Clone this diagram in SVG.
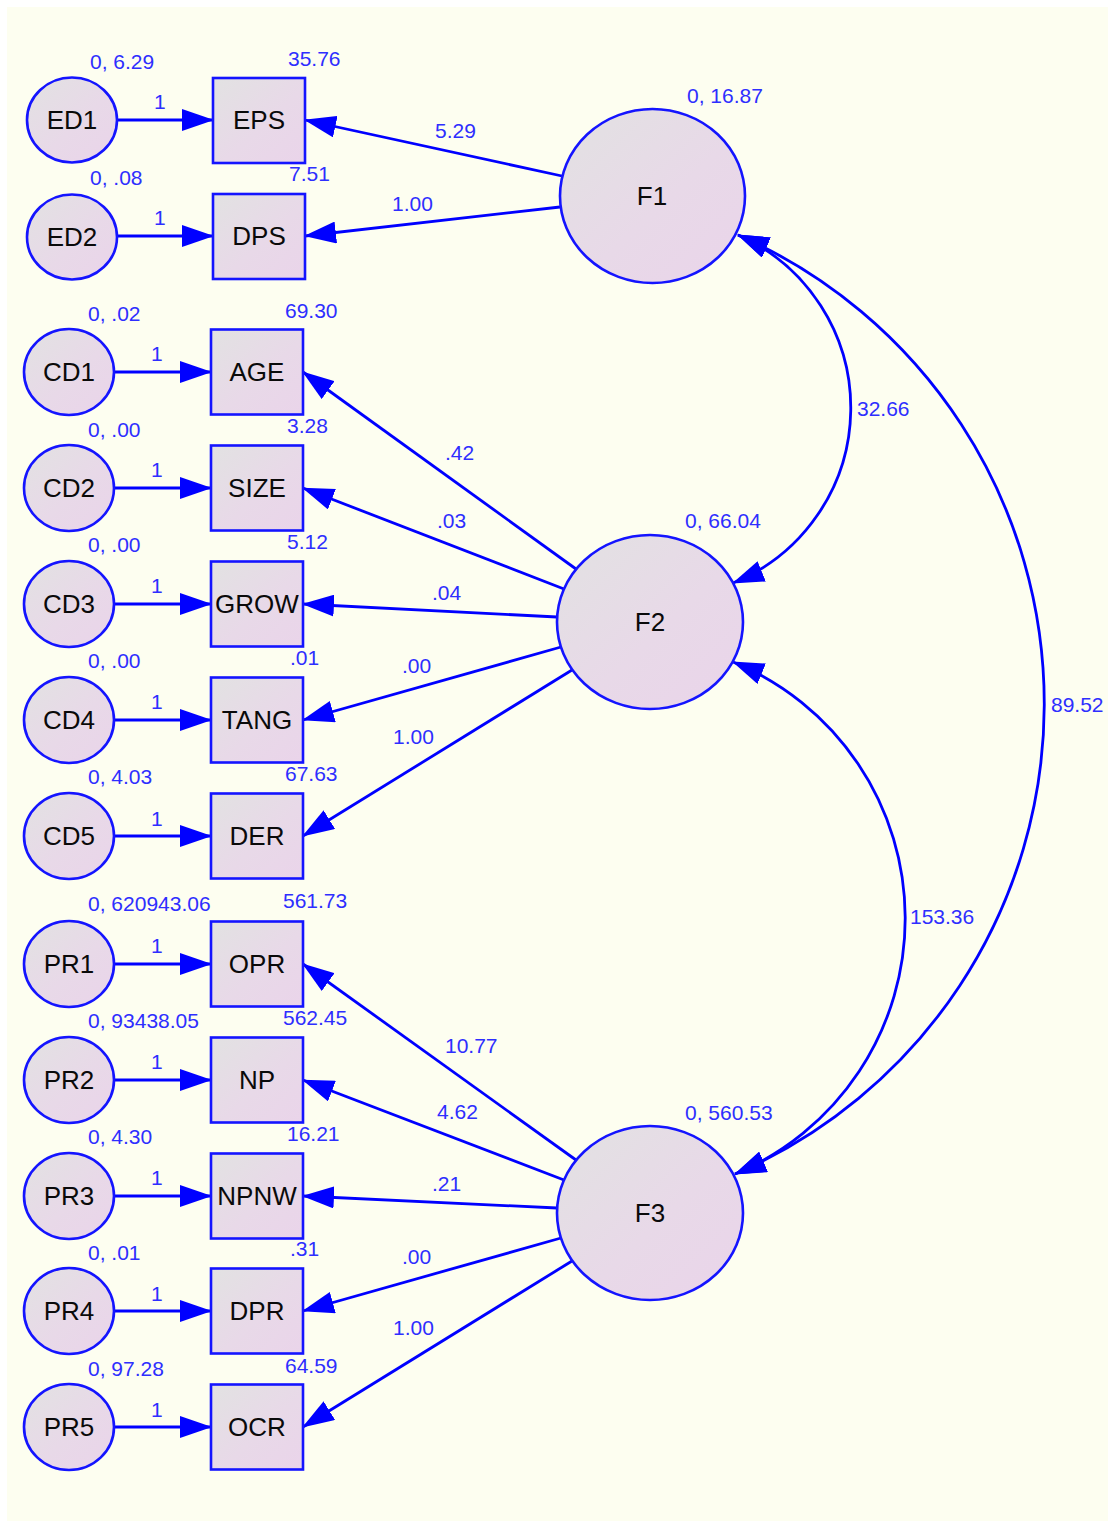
<svg xmlns="http://www.w3.org/2000/svg" width="1108" height="1521" viewBox="0 0 1108 1521">
<defs>
<linearGradient id="g" x1="0" y1="0" x2="1" y2="1">
<stop offset="0" stop-color="#e2e2e2"/>
<stop offset="0.55" stop-color="#e8d9e8"/>
<stop offset="1" stop-color="#ead4ea"/>
</linearGradient>
<marker id="ah" markerUnits="userSpaceOnUse" markerWidth="32" markerHeight="22" refX="31" refY="11" orient="auto">
<path d="M0,0 L32,11 L0,22 z" fill="#0000ff"/>
</marker>
<marker id="as" markerUnits="userSpaceOnUse" markerWidth="32" markerHeight="22" refX="1" refY="11" orient="auto">
<path d="M32,0 L0,11 L32,22 z" fill="#0000ff"/>
</marker>
</defs>
<style>
.n ellipse,.n rect{fill:url(#g);stroke:#1414ff;stroke-width:2.6}
.n text.t{font-family:"Liberation Sans",Arial,sans-serif;font-size:26px;fill:#0a0a0a;text-anchor:middle}
text.l{font-family:"Liberation Sans",Arial,sans-serif;font-size:21px;fill:#2e2eff;text-anchor:start}
#connectors path,#connectors line{stroke:#0000ff;stroke-width:2.8;fill:none}
.a{marker-end:url(#ah)}
.b{marker-start:url(#as);marker-end:url(#ah)}
</style>
<rect x="7" y="7" width="1101" height="1514" fill="#fdfef0"/>

<g id="connectors">
<line class="a" x1="117" y1="120" x2="213" y2="120"/>
<line class="a" x1="117" y1="236" x2="213" y2="236"/>
<line class="a" x1="114" y1="372" x2="211" y2="372"/>
<line class="a" x1="114" y1="488" x2="211" y2="488"/>
<line class="a" x1="114" y1="604" x2="211" y2="604"/>
<line class="a" x1="114" y1="720" x2="211" y2="720"/>
<line class="a" x1="114" y1="836" x2="211" y2="836"/>
<line class="a" x1="114" y1="964" x2="211" y2="964"/>
<line class="a" x1="114" y1="1080" x2="211" y2="1080"/>
<line class="a" x1="114" y1="1196" x2="211" y2="1196"/>
<line class="a" x1="114" y1="1311" x2="211" y2="1311"/>
<line class="a" x1="114" y1="1427" x2="211" y2="1427"/>

<line class="a" x1="562" y1="176" x2="305" y2="120"/>
<line class="a" x1="560" y1="207" x2="305" y2="236"/>

<line class="a" x1="576" y1="569" x2="303" y2="372"/>
<line class="a" x1="564" y1="589" x2="303" y2="488"/>
<line class="a" x1="557" y1="617" x2="303" y2="604"/>
<line class="a" x1="561" y1="647" x2="303" y2="720"/>
<line class="a" x1="572" y1="670" x2="303" y2="836"/>

<line class="a" x1="576" y1="1160" x2="303" y2="964"/>
<line class="a" x1="564" y1="1180" x2="303" y2="1080"/>
<line class="a" x1="557" y1="1208" x2="303" y2="1196"/>
<line class="a" x1="561" y1="1238" x2="303" y2="1311"/>
<line class="a" x1="572" y1="1261" x2="303" y2="1427"/>

<path class="b" d="M738,235 A189,189 0 0 1 733,583"/>
<path class="b" d="M738,235 A512,512 0 0 1 735,1174"/>
<path class="b" d="M733,662 A277,277 0 0 1 735,1174"/>

<text class="l" x="154" y="109">1</text>
<text class="l" x="154" y="225">1</text>
<text class="l" x="151" y="361">1</text>
<text class="l" x="151" y="477">1</text>
<text class="l" x="151" y="593">1</text>
<text class="l" x="151" y="709">1</text>
<text class="l" x="151" y="826">1</text>
<text class="l" x="151" y="953">1</text>
<text class="l" x="151" y="1069">1</text>
<text class="l" x="151" y="1185">1</text>
<text class="l" x="151" y="1301">1</text>
<text class="l" x="151" y="1417">1</text>

<text class="l" x="435" y="138">5.29</text>
<text class="l" x="392" y="211">1.00</text>
<text class="l" x="445" y="460">.42</text>
<text class="l" x="437" y="528">.03</text>
<text class="l" x="432" y="600">.04</text>
<text class="l" x="402" y="673">.00</text>
<text class="l" x="393" y="744">1.00</text>
<text class="l" x="445" y="1053">10.77</text>
<text class="l" x="437" y="1119">4.62</text>
<text class="l" x="432" y="1191">.21</text>
<text class="l" x="402" y="1264">.00</text>
<text class="l" x="393" y="1335">1.00</text>
<text class="l" x="857" y="416">32.66</text>
<text class="l" x="1051" y="712">89.52</text>
<text class="l" x="910" y="924">153.36</text>
</g>

<g id="ED1" class="n"><ellipse cx="72" cy="120" rx="45" ry="42.5"/><text class="t" x="72" y="129">ED1</text><text class="l" x="90" y="69">0, 6.29</text></g>
<g id="ED2" class="n"><ellipse cx="72" cy="237" rx="45" ry="42.5"/><text class="t" x="72" y="246">ED2</text><text class="l" x="90" y="185">0, .08</text></g>
<g id="EPS" class="n"><rect x="213" y="78" width="92" height="85"/><text class="t" x="259" y="129">EPS</text><text class="l" x="288" y="66">35.76</text></g>
<g id="DPS" class="n"><rect x="213" y="194" width="92" height="85"/><text class="t" x="259" y="245">DPS</text><text class="l" x="289" y="181">7.51</text></g>

<g id="CD1" class="n"><ellipse cx="69" cy="372" rx="45" ry="43"/><text class="t" x="69" y="381">CD1</text><text class="l" x="88" y="321">0, .02</text></g>
<g id="CD2" class="n"><ellipse cx="69" cy="488" rx="45" ry="43"/><text class="t" x="69" y="497">CD2</text><text class="l" x="88" y="437">0, .00</text></g>
<g id="CD3" class="n"><ellipse cx="69" cy="604" rx="45" ry="43"/><text class="t" x="69" y="613">CD3</text><text class="l" x="88" y="552">0, .00</text></g>
<g id="CD4" class="n"><ellipse cx="69" cy="720" rx="45" ry="43"/><text class="t" x="69" y="729">CD4</text><text class="l" x="88" y="668">0, .00</text></g>
<g id="CD5" class="n"><ellipse cx="69" cy="836" rx="45" ry="43"/><text class="t" x="69" y="845">CD5</text><text class="l" x="88" y="784">0, 4.03</text></g>

<g id="AGE" class="n"><rect x="211" y="329.5" width="92" height="85"/><text class="t" x="257" y="381">AGE</text><text class="l" x="285" y="318">69.30</text></g>
<g id="SIZE" class="n"><rect x="211" y="445.5" width="92" height="85"/><text class="t" x="257" y="497">SIZE</text><text class="l" x="287" y="433">3.28</text></g>
<g id="GROW" class="n"><rect x="211" y="561.5" width="92" height="85"/><text class="t" x="257" y="613">GROW</text><text class="l" x="287" y="549">5.12</text></g>
<g id="TANG" class="n"><rect x="211" y="677.5" width="92" height="85"/><text class="t" x="257" y="729">TANG</text><text class="l" x="290" y="665">.01</text></g>
<g id="DER" class="n"><rect x="211" y="793.5" width="92" height="85"/><text class="t" x="257" y="845">DER</text><text class="l" x="285" y="781">67.63</text></g>

<g id="PR1" class="n"><ellipse cx="69" cy="964" rx="45" ry="43"/><text class="t" x="69" y="973">PR1</text><text class="l" x="88" y="911">0, 620943.06</text></g>
<g id="PR2" class="n"><ellipse cx="69" cy="1080" rx="45" ry="43"/><text class="t" x="69" y="1089">PR2</text><text class="l" x="88" y="1028">0, 93438.05</text></g>
<g id="PR3" class="n"><ellipse cx="69" cy="1196" rx="45" ry="43"/><text class="t" x="69" y="1205">PR3</text><text class="l" x="88" y="1144">0, 4.30</text></g>
<g id="PR4" class="n"><ellipse cx="69" cy="1311" rx="45" ry="43"/><text class="t" x="69" y="1320">PR4</text><text class="l" x="88" y="1260">0, .01</text></g>
<g id="PR5" class="n"><ellipse cx="69" cy="1427" rx="45" ry="43"/><text class="t" x="69" y="1436">PR5</text><text class="l" x="88" y="1376">0, 97.28</text></g>

<g id="OPR" class="n"><rect x="211" y="921.5" width="92" height="85"/><text class="t" x="257" y="973">OPR</text><text class="l" x="283" y="908">561.73</text></g>
<g id="NP" class="n"><rect x="211" y="1037.5" width="92" height="85"/><text class="t" x="257" y="1089">NP</text><text class="l" x="283" y="1025">562.45</text></g>
<g id="NPNW" class="n"><rect x="211" y="1153.5" width="92" height="85"/><text class="t" x="257" y="1205">NPNW</text><text class="l" x="287" y="1141">16.21</text></g>
<g id="DPR" class="n"><rect x="211" y="1268.5" width="92" height="85"/><text class="t" x="257" y="1320">DPR</text><text class="l" x="290" y="1256">.31</text></g>
<g id="OCR" class="n"><rect x="211" y="1384.5" width="92" height="85"/><text class="t" x="257" y="1436">OCR</text><text class="l" x="285" y="1373">64.59</text></g>

<g id="F1" class="n"><ellipse cx="652.5" cy="196" rx="92.5" ry="87"/><text class="t" x="652" y="205">F1</text><text class="l" x="687" y="103">0, 16.87</text></g>
<g id="F2" class="n"><ellipse cx="650" cy="622" rx="93" ry="87"/><text class="t" x="650" y="631">F2</text><text class="l" x="685" y="528">0, 66.04</text></g>
<g id="F3" class="n"><ellipse cx="650" cy="1213" rx="93" ry="87"/><text class="t" x="650" y="1222">F3</text><text class="l" x="685" y="1120">0, 560.53</text></g>
</svg>
